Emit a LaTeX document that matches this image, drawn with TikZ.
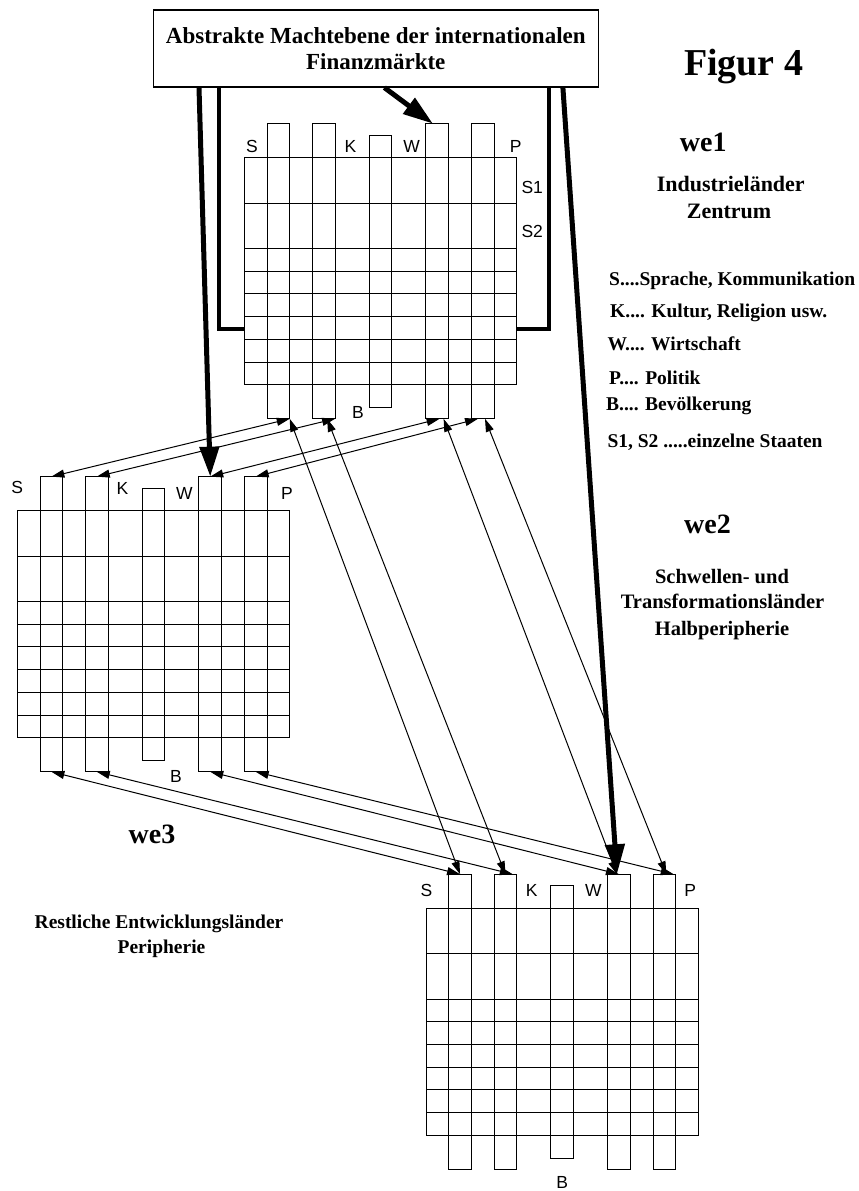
\documentclass[tikz,border=0pt]{standalone}
\usepackage{fontspec}
\setmainfont{Liberation Serif}
\setsansfont{Liberation Sans}
\usetikzlibrary{arrows.meta}
\tikzset{
  wbar/.style={draw, line width=1pt, inner sep=0pt, outer sep=0pt, minimum width=22.7pt, minimum height=295.1pt},
  wfield/.style={draw, line width=1pt, inner sep=0pt, outer sep=0pt, minimum width=272.4pt, minimum height=227pt, anchor=north west},
  wlabel/.style={font=\sffamily\fontsize{17.5}{17.5}\selectfont, inner sep=0pt},
  wlink/.style={{Triangle[length=13pt,width=8pt]}-{Triangle[length=13pt,width=8pt]}, line width=1pt},
  wpower/.style={-{Triangle[length=30pt,width=19pt]}, line width=5pt},
  wframe/.style={line width=4pt},
  wtext/.style={inner sep=0pt, anchor=base, font=\bfseries\fontsize{#1}{#1}\selectfont},
  wtext/.default=22,
  wkey/.style={inner sep=0pt, anchor=base west, font=\bfseries\fontsize{19.5}{19.5}\selectfont},
}
\begin{document}
\begin{tikzpicture}[x=1pt,y=-1pt]
\useasboundingbox (0,0) rectangle (859,1191);
\node[draw, line width=1.2pt, align=center, inner sep=0pt, minimum width=445pt, minimum height=77pt,
      font=\bfseries\fontsize{23}{26.6}\selectfont] (box) at (375.8,48.5)
      {Abstrakte Machtebene der internationalen\\Finanzmärkte};

\foreach \g/\ox/\oy in {g1/244.3/157.7, g2/17.3/510.7, g3/426/908.3}{
  \begin{scope}[shift={(\ox,\oy)}]
    \node[wfield] (\g grid) at (0,0) {};
    \foreach \r in {2,4,5,6,7,8,9}
      \draw[line width=1pt] (0,\r*22.7) -- (272.4,\r*22.7);
    \foreach \b/\c in {S/1.5,K/3.5,W/8.5,P/10.5}
      \node[wbar] (\g\b) at (\c*22.7,113.5) {};
    \node[wbar, minimum height=272.4pt] (\g B) at (6*22.7,113.5) {};
  \end{scope}
}
\foreach \n/\t/\x/\y in {g1S/S/252/146, g1K/K/350.5/146, g1W/W/411.7/146, g1P/P/515.7/146,
    g1S1/S1/532.2/187.7, g1S2/S2/532.2/231.7, g1B/B/358/412.5,
    g2S/S/17.2/487.2, g2K/K/122.5/488, g2W/W/184.3/493.8, g2P/P/287/493.8, g2B/B/176/776.7,
    g3S/S/426.5/890.5, g3K/K/531.7/890.5, g3W/W/593.3/890.5, g3P/P/690.3/890.5, g3B/B/562.3/1182}
  \node[wlabel] (\n lab) at (\x,\y) {\t};

\draw[wframe] ([xshift=66.7pt]box.south west) |- ([yshift=-57.8pt]g1grid.west);
\draw[wframe] ([xshift=-50pt]box.south east) |- ([yshift=-57.8pt]g1grid.east);
\draw[wpower] ([xshift=46.3pt]box.south west) -- (g2W.north);
\draw[wpower] ([xshift=231.7pt]box.south west) -- ([xshift=7pt]g1W.north west);
\draw[wpower] ([xshift=-36pt]box.south east) -- ([xshift=-2pt]g3W.north);

\draw[wlink] (g2S.north) -- (g1S.south east);
\draw[wlink] (g2K.north) -- (g1K.south east);
\draw[wlink] (g2W.north) -- ([xshift=-9pt]g1W.south east);
\draw[wlink] (g2P.north) -- ([xshift=-16pt]g1P.south east);
\draw[wlink] (g1S.south east) -- (g3S.north);
\draw[wlink] ([xshift=-8pt]g1K.south east) -- (g3K.north);
\draw[wlink] ([xshift=-5pt]g1W.south east) -- ([xshift=-2pt]g3W.north);
\draw[wlink] ([xshift=-9pt]g1P.south east) -- ([xshift=2pt]g3P.north);
\draw[wlink] (g2S.south) -- (g3S.north);
\draw[wlink] (g2K.south) -- ([xshift=-4pt]g3K.north east);
\draw[wlink] (g2W.south) -- (g3W.north);
\draw[wlink] (g2P.south) -- ([xshift=-2pt]g3P.north east);

\node[wtext=38] (figur) at (743.7,75) {Figur 4};
\node[wtext=28] (we1) at (703.3,151.7) {we1};
\node[wtext] (we1a) at (730.8,191.7) {Industrieländer};
\node[wtext] (we1b) at (729,218.3) {Zentrum};
\node[wkey] (keyS) at (609,285.7) {S....Sprache, Kommunikation};
\node[wkey] (keyK) at (610,317.3) {K.... Kultur, Religion usw.};
\node[wkey] (keyW) at (607.3,350.7) {W.... Wirtschaft};
\node[wkey] (keyP) at (609,384) {P.... Politik};
\node[wkey] (keyB) at (606,410) {B.... Bevölkerung};
\node[wkey] (keyS12) at (607.3,447.3) {S1, S2 .....einzelne Staaten};
\node[wtext=28] (we2) at (707.5,533.3) {we2};
\node[wtext=20.5] (we2a) at (722,583.3) {Schwellen- und};
\node[wtext=20.5] (we2b) at (722.5,608.3) {Transformationsländer};
\node[wtext=20.5] (we2c) at (722,635) {Halbperipherie};
\node[wtext=28] (we3) at (152,843) {we3};
\node[wtext=19.5] (we3a) at (159,928) {Restliche Entwicklungsländer};
\node[wtext=19.5] (we3b) at (161.5,953) {Peripherie};
\end{tikzpicture}
\end{document}
